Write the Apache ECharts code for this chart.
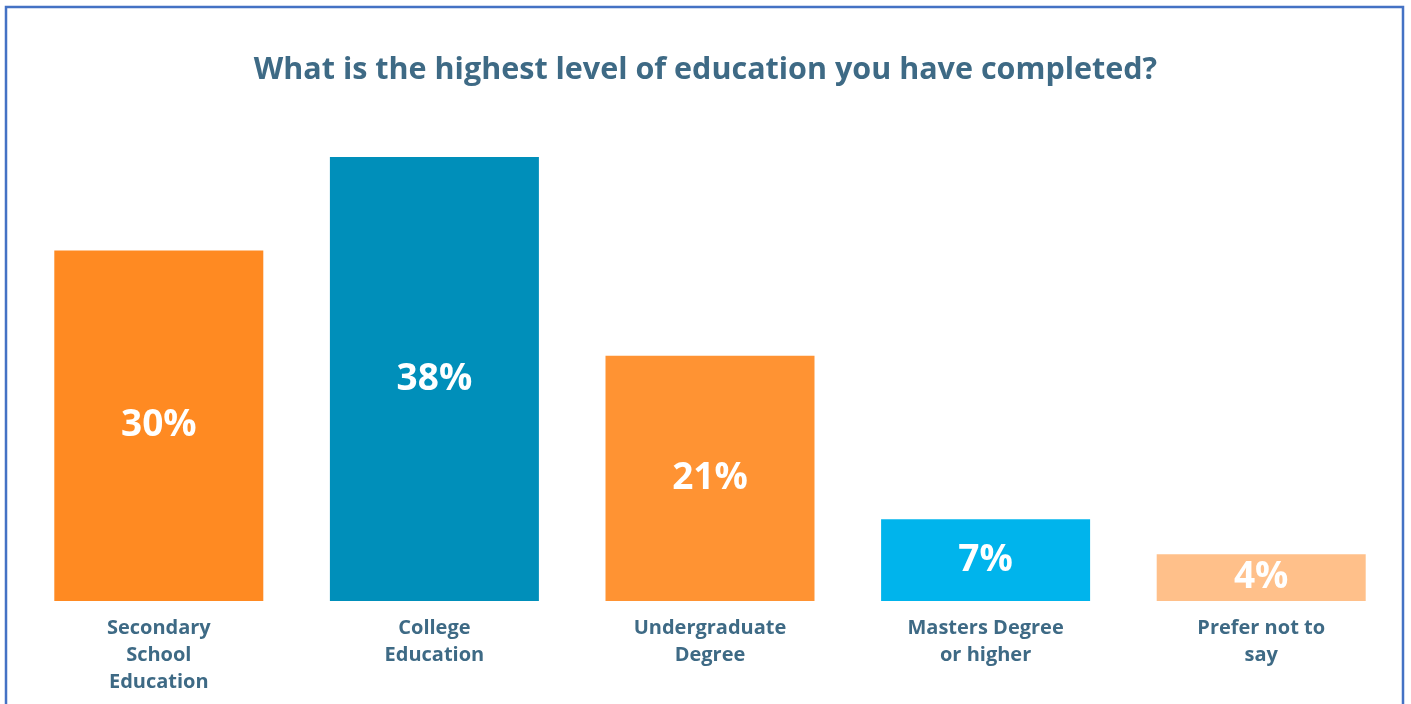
<!DOCTYPE html>
<html>
<head>
<meta charset="utf-8">
<script src="https://cdn.jsdelivr.net/npm/echarts@6/dist/echarts.min.js"></script>
<style>
html,body{margin:0;padding:0;background:#fff;}
#chart{width:1411px;height:704px;}
</style>
</head>
<body>
<div id="chart"></div>
<script>
var titleText = 'What is the highest level of education you have completed?';
var categories = ['Secondary\nSchool\nEducation', 'College\nEducation', 'Undergraduate\nDegree', 'Masters Degree\nor higher', 'Prefer not to\nsay'];
var values = [30, 38, 21, 7, 4];
var barColors = ['#FF8A22', '#008FBA', '#FF9333', '#00B4EC', '#FFC08A'];

var chart = echarts.init(document.getElementById('chart'), null, {renderer: 'canvas'});
var FONT = 'Open Sans';
chart.setOption({
  animation: false,
  backgroundColor: '#ffffff',
  title: {
    text: titleText,
    left: 'center',
    top: 50,
    textStyle: {fontFamily: FONT, fontWeight: 'bold', fontSize: 30.5, color: '#3E6A85'}
  },
  graphic: [{
    type: 'rect',
    shape: {x: 6, y: 7, width: 1397, height: 720},
    style: {fill: null, stroke: '#4472C4', lineWidth: 2.5},
    silent: true
  }],
  grid: {left: 21, right: 12, top: 157, bottom: 103, containLabel: false},
  xAxis: {
    type: 'category',
    data: categories,
    axisLine: {show: false},
    axisTick: {show: false},
    axisLabel: {
      interval: 0, margin: 14,
      fontFamily: FONT, fontWeight: 'bold', fontSize: 20, lineHeight: 27, color: '#3E6A85'
    }
  },
  yAxis: {type: 'value', min: 0, max: 38, show: false, splitLine: {show: false}},
  series: [{
    type: 'bar',
    barWidth: 209,
    data: values.map(function (v, i) { return {value: v, itemStyle: {color: barColors[i]}}; }),
    label: {
      show: true, position: 'inside',
      formatter: '{c}%',
      fontFamily: FONT, fontWeight: 'bold', fontSize: 37, color: '#ffffff'
    }
  }]
});
</script>
</body>
</html>
